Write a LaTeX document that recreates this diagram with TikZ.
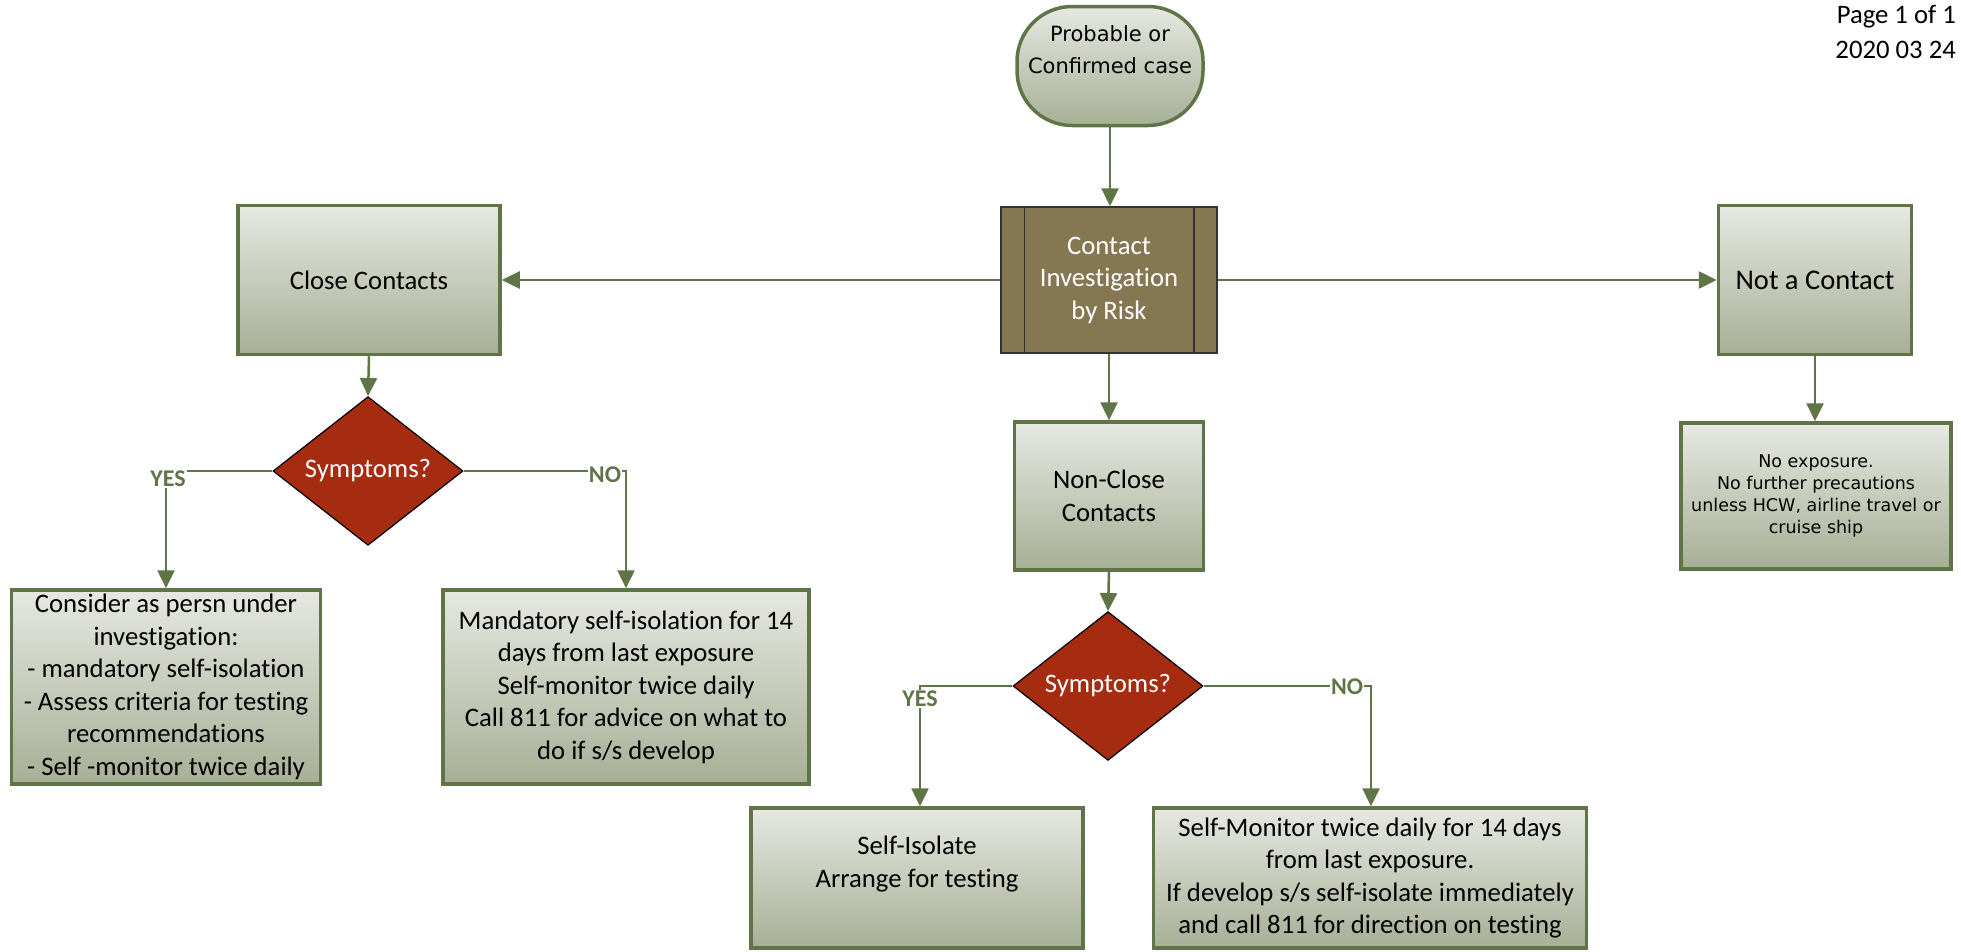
\documentclass[tikz,border=0pt]{standalone}
\usepackage{fontspec}
\setmainfont{Carlito}[Ligatures=NoCommon]
\newfontfamily\verd{DejaVu Sans}
\usetikzlibrary{shapes.geometric,arrows.meta,calc}
\definecolor{lineg}{HTML}{5F7547}
\definecolor{gtop}{HTML}{E6E8E2}
\definecolor{gbot}{HTML}{A7AF95}
\definecolor{cifill}{HTML}{857752}
\definecolor{dred}{HTML}{A62C11}
\begin{document}
\begin{tikzpicture}[x=1pt,y=-1pt,
  mainfs/.style={font=\fontsize{26.7}{32.5}\selectfont},
  gbox/.style={draw=lineg, line width=3.5pt, top color=gtop, bottom color=gbot, align=center, inner sep=0pt, mainfs},
  cibox/.style={draw=black!80, line width=1.5pt, fill=cifill, text=white, align=center, inner sep=0pt, mainfs},
  decis/.style={diamond, draw=black, line width=1.2pt, fill=dred, text=white, inner sep=0pt, mainfs},
  conn/.style={draw=lineg, line width=2.5pt, -{Triangle[length=18pt,width=17pt]}},
  lbl/.style={fill=white, text=lineg, inner sep=1pt, font=\fontsize{24}{28}\selectfont\bfseries}
]
\useasboundingbox (0,0) rectangle (1961,951);

% header
\node[anchor=east, align=right, font=\fontsize{26.7}{35}\selectfont, inner sep=0pt] (pg) at (1956,32) {Page 1 of 1\\2020 03 24};

% nodes
\node[gbox, rounded corners=55pt, minimum width=186pt, minimum height=119pt, font=\verd\fontsize{21}{32}\selectfont] (start) at (1110,66) {Probable or\\Confirmed case\\ ~};
\node[cibox, minimum width=216pt, minimum height=146pt] (ci) at (1109,280) {Contact\\Investigation\\by Risk};
\draw[black!80, line width=1.5pt] ($(ci.north west)+(24,0)$) -- ($(ci.south west)+(24,0)$);
\draw[black!80, line width=1.5pt] ($(ci.north east)+(-24,0)$) -- ($(ci.south east)+(-24,0)$);

\node[gbox, minimum width=262pt, minimum height=149pt] (close) at (369,280) {Close Contacts};
\node[gbox, minimum width=193pt, minimum height=149pt, font=\fontsize{28.5}{34}\selectfont] (notc) at (1815,280) {Not a Contact};
\node[gbox, minimum width=189pt, minimum height=148pt] (nonclose) at (1109,496) {Non-Close\\Contacts};
\node[gbox, minimum width=270pt, minimum height=146pt, font=\verd\fontsize{17.5}{22}\selectfont] (noexp) at (1816,496) {No exposure.\\No further precautions\\unless HCW, airline travel or\\cruise ship};

\node[decis, minimum width=190pt, minimum height=143pt] (d1) at (368,471) {Symptoms?};
\node[decis, minimum width=190pt, minimum height=144pt] (d2) at (1108,686) {Symptoms?};

\node[gbox, minimum width=309pt, minimum height=194pt] (yes1) at (166,687) {Consider as persn under\\investigation:\\- mandatory self-isolation\\- Assess criteria for testing\\recommendations\\- Self -monitor twice daily};
\node[gbox, minimum width=366pt, minimum height=194pt] (no1) at (626,687) {Mandatory self-isolation for 14\\days from last exposure\\Self-monitor twice daily\\Call 811 for advice on what to\\do if s/s develop};
\node[gbox, minimum width=332pt, minimum height=140pt] (yes2) at (917,878) {Self-Isolate\\Arrange for testing\\ ~};
\node[gbox, minimum width=433pt, minimum height=140pt] (no2) at (1370,878) {Self-Monitor twice daily for 14 days\\from last exposure.\\If develop s/s self-isolate immediately\\and call 811 for direction on testing};

% corner coordinates
\coordinate (c1y) at (166,471);
\coordinate (c1n) at (626,471);
\coordinate (c2y) at (920,686);
\coordinate (c2n) at (1371,686);

% connectors
\draw[conn] (start.south) -- (start.south |- ci.north);
\draw[conn] (ci.west) -- (close.east);
\draw[conn] (ci.east) -- (notc.west);
\draw[conn] (ci.south) -- (nonclose.north);
\draw[conn] (close.south) -- (d1.north);
\draw[conn] (notc.south) -- (notc.south |- noexp.north);
\draw[conn] (nonclose.south) -- (d2.north);

\draw[conn] (d1.west) -- (c1y) -- (c1y |- yes1.north);
\draw[conn] (d1.east) -- (c1n) -- (c1n |- no1.north);
\draw[conn] (d2.west) -- (c2y) -- (c2y |- yes2.north);
\draw[conn] (d2.east) -- (c2n) -- (c2n |- no2.north);

% labels
\node[lbl] (ly1) at ($(c1y)+(2,8)$) {YES};
\node[lbl] (ln1) at ($(c1n)+(-21,4)$) {NO};
\node[lbl] (ly2) at ($(c2y)+(0,13)$) {YES};
\node[lbl] (ln2) at ($(c2n)+(-24,1)$) {NO};
\end{tikzpicture}
\end{document}
